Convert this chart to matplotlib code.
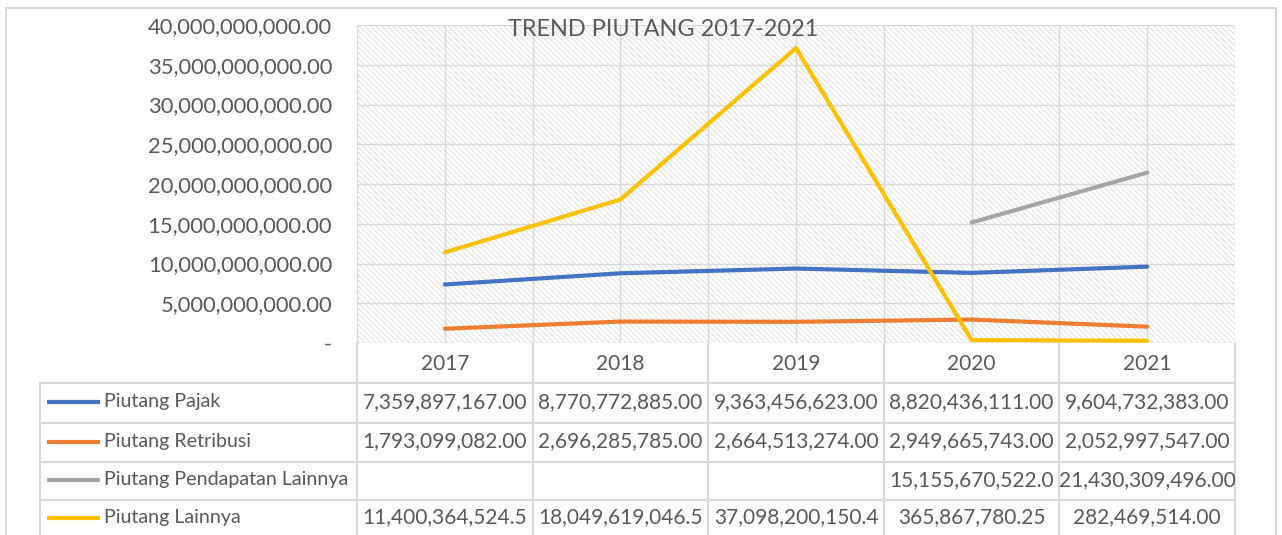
import numpy as np
import matplotlib
matplotlib.use("Agg")
import matplotlib.pyplot as plt
from matplotlib.patches import Rectangle
from matplotlib.ticker import FuncFormatter, MultipleLocator

plt.rcParams['font.family'] = ['Lato', 'DejaVu Sans']
plt.rcParams['hatch.linewidth'] = 0.5

# ---------------- data ----------------
years = ["2017", "2018", "2019", "2020", "2021"]
series_names = ["Piutang Pajak", "Piutang Retribusi", "Piutang Pendapatan Lainnya", "Piutang Lainnya"]
piutang_pajak = [7359897167.00, 8770772885.00, 9363456623.00, 8820436111.00, 9604732383.00]
piutang_retribusi = [1793099082.00, 2696285785.00, 2664513274.00, 2949665743.00, 2052997547.00]
piutang_pendapatan_lainnya = [np.nan, np.nan, np.nan, 15155670522.0, 21430309496.00]
piutang_lainnya = [11400364524.5, 18049619046.5, 37098200150.4, 365867780.25, 282469514.00]
table_text = [
    ["7,359,897,167.00", "8,770,772,885.00", "9,363,456,623.00", "8,820,436,111.00", "9,604,732,383.00"],
    ["1,793,099,082.00", "2,696,285,785.00", "2,664,513,274.00", "2,949,665,743.00", "2,052,997,547.00"],
    ["", "", "", "15,155,670,522.0", "21,430,309,496.00"],
    ["11,400,364,524.5", "18,049,619,046.5", "37,098,200,150.4", "365,867,780.25", "282,469,514.00"],
]
title = "TREND PIUTANG 2017-2021"
colors = ["#4472C4", "#ED7D31", "#A5A5A5", "#FFC000"]
series = [piutang_pajak, piutang_retribusi, piutang_pendapatan_lainnya, piutang_lainnya]

# ---------------- layout ----------------
W, H = 1282, 535
fig = plt.figure(figsize=(W / 100, H / 100), dpi=100)
fig.patch.set_facecolor("white")

def fx(x):
    return x / W

def fy(y):
    return 1 - y / H

TXT = "#595959"
GRID = "#d9d9d9"
FS_NUM = 15.0
FS_TICK = 15.8
FS_LBL = 14.1
FS_TITLE = 16.9

ov = fig.add_axes([0, 0, 1, 1], zorder=0)
ov.set_xlim(0, W)
ov.set_ylim(H, 0)
ov.axis("off")
ov.add_patch(Rectangle((6, 8), 1270, 540, facecolor="white", edgecolor=GRID, linewidth=1.5))

left, right, top, bottom = 357, 1235, 25, 343
ax = fig.add_axes([fx(left), fy(bottom), fx(right - left), (bottom - top) / H], zorder=2)
ax.patch.set_alpha(0)
ax.set_xlim(-0.5, len(years) - 0.5)
ax.set_ylim(0, 40e9)
ax.add_patch(Rectangle((0, 0), 1, 1, transform=ax.transAxes, facecolor="white",
                       edgecolor="#d6d6d6", linewidth=0, hatch="\\\\\\\\\\\\", zorder=0))
for s in ax.spines.values():
    s.set_visible(False)
ax.yaxis.set_major_locator(MultipleLocator(5e9))
ax.yaxis.set_major_formatter(FuncFormatter(lambda v, p: "-" if v == 0 else f"{v:,.2f}"))
ax.tick_params(axis="y", length=0, pad=18, labelsize=FS_TICK, labelcolor=TXT)
ax.tick_params(axis="x", length=0, labelbottom=False)
ax.set_xticks(np.arange(-0.5, len(years), 0.5))
ax.grid(True, color=GRID, linewidth=1.0, zorder=1)
ax.set_axisbelow(True)

x = np.arange(len(years))
for vals, c in zip(series, colors):
    ax.plot(x, vals, color=c, linewidth=3.0, solid_capstyle="round",
            solid_joinstyle="round", zorder=3)

fig.text(fx(663), fy(30), title, ha="center", va="center", fontsize=FS_TITLE, color=TXT, zorder=5)

# ---------------- data table ----------------
edges_px = [ax.transData.transform((e, 0))[0] for e in np.arange(-0.5, len(years), 1.0)]
centers_px = [ax.transData.transform((xi, 0))[0] for xi in x]
tab_left = 40
header_top, header_bot = 343, 383
row_edges = [383, 423, 462, 500, 540]

lkw = dict(color=GRID, linewidth=1.5, zorder=1)
for e in edges_px:
    ov.plot([e, e], [header_top, H], **lkw)
ov.plot([tab_left, tab_left], [header_bot, H], **lkw)
for r in row_edges[:-1]:
    ov.plot([tab_left, edges_px[-1]], [r, r], **lkw)

for cx, yr in zip(centers_px, years):
    ov.text(cx, (header_top + header_bot) / 2 + 1, yr, ha="center", va="center",
            fontsize=FS_NUM, color=TXT)

for i, (name, c) in enumerate(zip(series_names, colors)):
    yc = (row_edges[i] + row_edges[i + 1]) / 2 - 1 if i < 3 else (row_edges[i] + 537) / 2 - 1
    ov.plot([47, 100], [yc, yc], color=c, linewidth=3.0, solid_capstyle="butt")
    ov.text(104, yc, name, ha="left", va="center", fontsize=FS_LBL, color=TXT)
    for cx, t in zip(centers_px, table_text[i]):
        ov.text(cx, yc, t, ha="center", va="center", fontsize=FS_NUM, color=TXT)

fig.savefig("out.png", dpi=100)
